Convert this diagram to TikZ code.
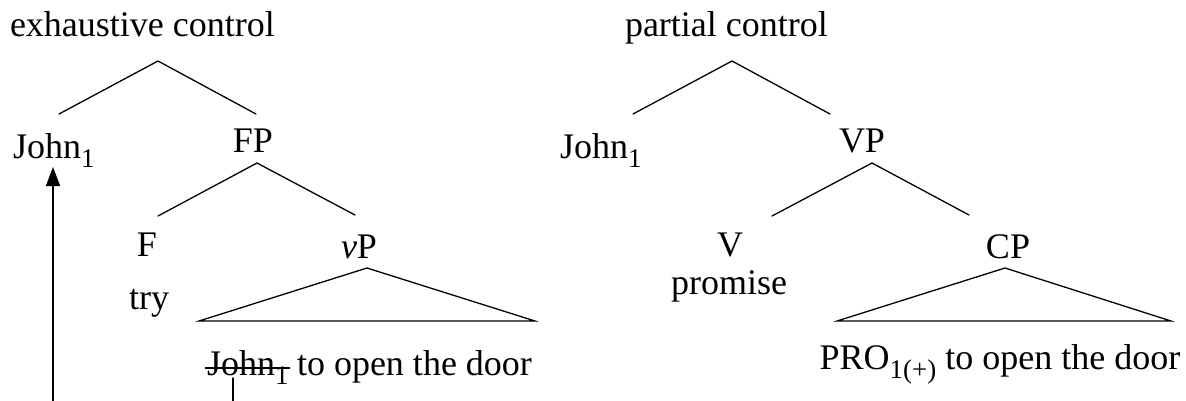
\documentclass[tikz,border=0pt]{standalone}
\usepackage{fontspec}
\setmainfont{Liberation Serif}
\usetikzlibrary{arrows.meta}
\newcommand\mysub[1]{\raisebox{-0.26em}{\fontsize{27}{27}\selectfont #1}}
\begin{document}
\begin{tikzpicture}[x=1pt,y=-1pt,
  lbl/.style={inner sep=0pt, outer sep=0pt, font=\fontsize{36}{40}\selectfont},
  edge/.style={line width=1.3pt, line cap=round},
  mover/.style={line width=1.3pt, -{Triangle[length=19pt,width=14pt]}}]
\useasboundingbox (0,0) rectangle (1186,400);
\clip (0,0) rectangle (1186,400);

% ---------- left tree: exhaustive control ----------
\node[lbl, anchor=base west] (title1) at (10,36) {exhaustive control};
\coordinate (r1) at (158,61);
\coordinate (r1l) at (59,114);
\coordinate (r1r) at (256,114);
\draw[edge] (r1l) -- (r1) -- (r1r);
\node[lbl, anchor=base west] (john1) at (13,158) {John\mysub{1}};
\node[lbl, anchor=base] (fp) at (253,152) {FP};
\coordinate (fpa) at (257,163);
\coordinate (fpl) at (158,216);
\coordinate (fpr) at (355,215);
\draw[edge] (fpl) -- (fpa) -- (fpr);
\node[lbl, anchor=base] (f) at (147,256) {F};
\node[lbl, anchor=base] (try) at (149,309) {try};
\node[lbl, anchor=base] (vp) at (359,258) {\textit{v}P};
\coordinate (vpa) at (367,268);
\coordinate (vpl) at (199,321);
\coordinate (vpr) at (535,321);
\draw[edge] (vpl) -- (vpa) -- (vpr) -- cycle;
\node[lbl, anchor=base west] (trace) at (207,375) {John\mysub{1}};
\node[lbl, anchor=base west] (rest1) at (297,375) {to open the door};
\draw[line width=1.1pt] ([xshift=-2pt,yshift=7pt]trace.base west) -- ([xshift=1pt,yshift=7pt]trace.base east);
\coordinate (tstart) at (233,378);
\coordinate (jtip) at (53,167);
\coordinate (tdown) at (233,430);
\coordinate (tleft) at (53,430);
\draw[edge] (tstart) -- (tdown);
\draw[mover] (tleft) -- (jtip);

% ---------- right tree: partial control ----------
\node[lbl, anchor=base west] (title2) at (625,36) {partial control};
\coordinate (r2) at (732,61);
\coordinate (r2l) at (633,114);
\coordinate (r2r) at (830,114);
\draw[edge] (r2l) -- (r2) -- (r2r);
\node[lbl, anchor=base west] (john2) at (560,158) {John\mysub{1}};
\node[lbl, anchor=base] (vpp) at (862,152) {VP};
\coordinate (vppa) at (872,163);
\coordinate (vppl) at (772,216);
\coordinate (vppr) at (969,215);
\draw[edge] (vppl) -- (vppa) -- (vppr);
\node[lbl, anchor=base] (v) at (730,256) {V};
\node[lbl, anchor=base] (promise) at (729,294) {promise};
\node[lbl, anchor=base] (cp) at (1008,258) {CP};
\coordinate (cpa) at (1005,268);
\coordinate (cpl) at (837,321);
\coordinate (cpr) at (1171,321);
\draw[edge] (cpl) -- (cpa) -- (cpr) -- cycle;
\node[lbl, anchor=base] (pro) at (1000,369) {PRO\mysub{1(+)} to open the door};
\end{tikzpicture}
\end{document}
